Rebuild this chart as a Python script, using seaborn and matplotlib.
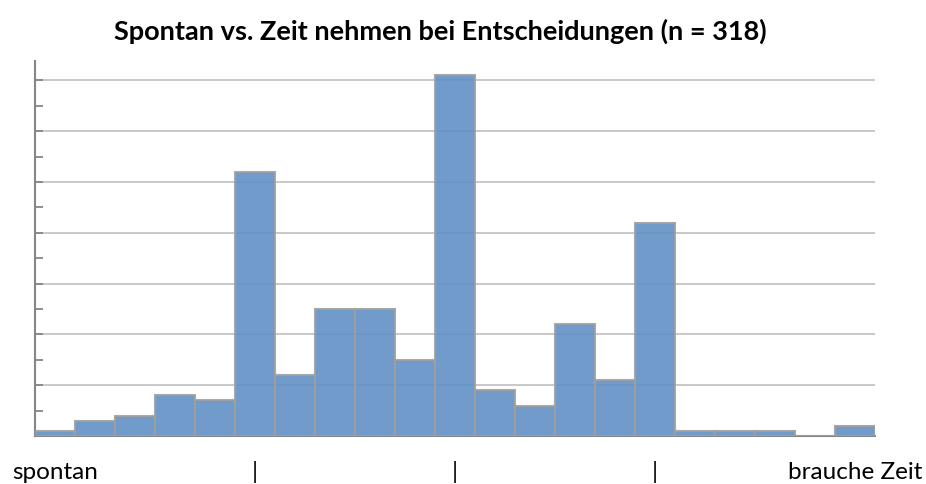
import matplotlib
matplotlib.use("Agg")
import matplotlib.pyplot as plt
import matplotlib.transforms as mtransforms
import seaborn as sns
import pandas as pd
from matplotlib.ticker import MultipleLocator

# Data
scale_points = list(range(1, 22))
counts = [1, 3, 4, 8, 7, 52, 12, 25, 25, 15, 71, 9, 6, 22, 11, 42, 1, 1, 1, 0, 2]
title = "Spontan vs. Zeit nehmen bei Entscheidungen (n = 318)"
axis_labels = ["spontan", "|", "|", "|", "brauche Zeit"]
axis_label_positions = [0, 5, 10, 15, 20]

df = pd.DataFrame({"pos": scale_points, "count": counts})

sns.set_theme(style="white")
plt.rcParams["font.family"] = ["Lato", "DejaVu Sans"]

fig = plt.figure(figsize=(9.26, 4.84), dpi=100)
ax = fig.add_axes([35/926, 48/484, 840/926, 375/484])

sns.barplot(data=df, x="pos", y="count", ax=ax, width=1.0,
            color="#6090C5", alpha=0.9, edgecolor="#A0A0A0", linewidth=1.5,
            saturation=1, zorder=3)

ax.set_ylim(0, 73.8)
ax.set_xlim(-0.5, 20.5)
ax.yaxis.set_major_locator(MultipleLocator(10))
ax.yaxis.set_minor_locator(MultipleLocator(5))
ax.grid(axis="y", which="major", color="#C4C4C4", linewidth=1.3, zorder=0)
ax.set_axisbelow(True)
ax.tick_params(axis="y", which="both", direction="in", length=6, width=1.3,
               color="#868686", labelleft=False, left=True)
ax.tick_params(axis="x", bottom=False, labelbottom=False)
for s in ["top", "right"]:
    ax.spines[s].set_visible(False)
for s in ["left", "bottom"]:
    ax.spines[s].set_color("#868686")
    ax.spines[s].set_linewidth(1.5)
ax.set_xlabel("")
ax.set_ylabel("")

trans = mtransforms.blended_transform_factory(ax.transData, fig.transFigure)
for pos, lab in zip(axis_label_positions, axis_labels):
    ax.text(pos, 1 - 479/484, lab, transform=trans, ha="center", va="baseline",
            fontsize=17.5, color="black", clip_on=False)

fig.text(440/926, 1 - 40/484, title, ha="center", va="baseline", fontsize=19.5,
         fontweight="bold", color="black")

fig.savefig("out.png", dpi=100)
